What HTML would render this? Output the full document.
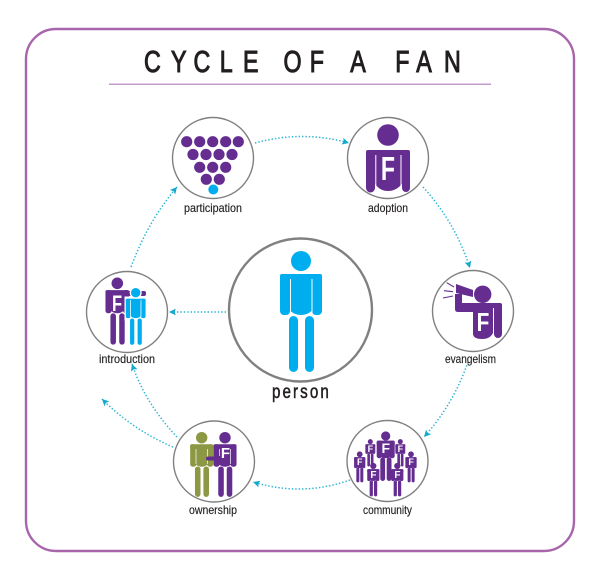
<!DOCTYPE html>
<html lang="en">
<head>
<meta charset="utf-8">
<title>Cycle of a Fan</title>
<style>
html,body{margin:0;padding:0;background:#fff}
svg{display:block}
text{font-family:"Liberation Sans",sans-serif}
.lbl{font-size:12px;fill:#231f20;stroke:#231f20;stroke-width:.15}
.arc{fill:none;stroke:#2ab5d5;stroke-width:1.5;stroke-dasharray:1.4 2;marker-end:url(#ah)}
.ring{fill:#fff;stroke:#808080;stroke-width:1.4}
.f{font-weight:bold;fill:#fff;text-anchor:middle}
</style>
</head>
<body>
<svg width="600" height="579" viewBox="0 0 600 579" xmlns="http://www.w3.org/2000/svg">
<defs>
  <marker id="ah" markerUnits="userSpaceOnUse" markerWidth="8" markerHeight="8" refX="6" refY="3.500" orient="auto" viewBox="0 0 7 7">
    <path d="M0 .5L6 3.500L0 6.500L1.200 3.500Z" fill="#12a9cc"/>
  </marker>
  <g id="p">
    <circle cx="0" cy="0" r="10"/>
    <rect x="-21" y="13" width="42" height="9" rx="2"/>
    <rect x="-21" y="13" width="10" height="41" rx="4"/>
    <rect x="11" y="13" width="10" height="41" rx="4"/>
    <path d="M-10.500 14H10.500V50Q6 54 0 54T-10.500 50Z"/>
    <rect x="-12" y="55" width="9" height="56" rx="4.500"/>
    <rect x="4" y="55" width="9" height="56" rx="4.500"/>
  </g>
</defs>

<rect x="26" y="29" width="548" height="522" rx="30" fill="#fff" stroke="#a766ac" stroke-width="2.400"/>

<g transform="scale(.75,1)">
  <text x="192 228 258 293 324 350 378 413 440 467 500 527 555 592" y="72" font-size="31" fill="#231f20" stroke="#231f20" stroke-width="1.100">CYCLE OF A FAN</text>
</g>
<rect x="109" y="83.500" width="382" height="1.500" fill="#c39bcb"/>

<!-- connectors -->
<path class="arc" d="M255 143Q302 130 349 143"/>
<path class="arc" d="M423 187Q455 222 470 268"/>
<path class="arc" d="M468 362Q453 405 424 437"/>
<path class="arc" d="M350 480Q302 497 253 482"/>
<path class="arc" d="M177 437Q145 403 132 364"/>
<path class="arc" d="M173 447Q133 430 102 399"/>
<path class="arc" d="M131 267Q148 221 177 187"/>
<path class="arc" d="M226 312H169"/>

<!-- person -->
<circle cx="300.500" cy="310" r="71.500" fill="#fff" stroke="#808080" stroke-width="2.400"/>
<g fill="#00aeef">
  <use href="#p" x="301" y="261"/>
</g>
<path d="M290.500 279V313M312 279V313" stroke="#fff" stroke-width="1"/>
<g transform="scale(.8,1)">
  <text x="340" y="398" font-size="19" fill="#231f20" stroke="#231f20" stroke-width=".5" textLength="71" lengthAdjust="spacing">person</text>
</g>

<!-- participation -->
<circle class="ring" cx="213" cy="158" r="40.500"/>
<g fill="#652d90">
  <circle cx="186.700" cy="141.700" r="5.600"/><circle cx="199.700" cy="141.700" r="5.600"/><circle cx="212.700" cy="141.700" r="5.600"/><circle cx="225.700" cy="141.700" r="5.600"/><circle cx="238.300" cy="141.700" r="5.600"/>
  <circle cx="193" cy="154.500" r="5.600"/><circle cx="206" cy="154.500" r="5.600"/><circle cx="219" cy="154.500" r="5.600"/><circle cx="232" cy="154.500" r="5.600"/>
  <circle cx="199.700" cy="167.300" r="5.600"/><circle cx="212.700" cy="167.300" r="5.600"/><circle cx="225.700" cy="167.300" r="5.600"/>
  <circle cx="206.300" cy="179.300" r="5.600"/><circle cx="219.300" cy="179.300" r="5.600"/>
</g>
<circle cx="213.300" cy="189.500" r="5" fill="#00aeef"/>
<text class="lbl" x="184" y="212" textLength="58" lengthAdjust="spacingAndGlyphs">participation</text>

<!-- adoption -->
<circle class="ring" cx="388" cy="158" r="40.500"/>
<g fill="#652d90">
  <circle cx="388" cy="135" r="10.800"/>
  <path d="M368 150H408Q410 150 410 152V188A4 4 0 0 1 402 188V184Q396 191 388 191T375 184V188A4.500 4.500 0 0 1 366 188V152Q366 150 368 150Z"/>
</g>
<path d="M375.800 155V192M401 155V192" stroke="#fff" stroke-width="1"/>
<text class="f" x="388" y="180" font-size="33" transform="translate(116.400 0) scale(.7,1)">F</text>
<text class="lbl" x="368" y="212" textLength="40" lengthAdjust="spacingAndGlyphs">adoption</text>

<!-- evangelism -->
<circle class="ring" cx="473" cy="311" r="40.500"/>
<g fill="#652d90">
  <circle cx="482.700" cy="294.300" r="8.700"/>
  <path d="M456 284L473 290V297L456 293Z"/>
  <path d="M455 294H462V303H500Q502 303 502 305V334A4 4 0 0 1 494 334V330Q492 339 482 339T473 332V312H458Q455 312 455 309Z"/>
</g>
<path d="M493.500 308V338" stroke="#fff" stroke-width="1"/>
<path d="M446.700 282.700L454 287M444 290.700L453 291.700M443 298L453 296" stroke="#652d90" stroke-width="1.100" fill="none"/>
<text class="f" x="483" y="331" font-size="26" transform="translate(96.600 0) scale(.8,1)">F</text>
<text class="lbl" x="445" y="363" textLength="51" lengthAdjust="spacingAndGlyphs">evangelism</text>

<!-- community -->
<circle class="ring" cx="387.500" cy="461" r="40.500"/>
<g fill="#652d90" stroke="#652d90" stroke-width="3">
  <use href="#p" transform="translate(370.300 441.700) scale(.22)"/>
  <use href="#p" transform="translate(400.300 441.700) scale(.22)"/>
  <use href="#p" transform="translate(359.700 454.300) scale(.25)"/>
  <use href="#p" transform="translate(411 454.300) scale(.25)"/>
  <use href="#p" transform="translate(385.700 436) scale(.4)"/>
  <use href="#p" transform="translate(373.300 466) scale(.27)"/>
  <use href="#p" transform="translate(397.300 466) scale(.27)"/>
</g>
<text class="f" x="385.800" y="453" font-size="14">F</text>
<text class="f" x="370.400" y="452" font-size="9">F</text>
<text class="f" x="400.400" y="452" font-size="9">F</text>
<text class="f" x="359.800" y="465" font-size="9">F</text>
<text class="f" x="411.100" y="465" font-size="9">F</text>
<text class="f" x="373.400" y="478" font-size="10">F</text>
<text class="f" x="397.400" y="478" font-size="10">F</text>
<text class="lbl" x="363" y="514" textLength="49" lengthAdjust="spacingAndGlyphs">community</text>

<!-- ownership -->
<circle class="ring" cx="214" cy="461.500" r="40.500"/>
<use href="#p" fill="#8d9845" stroke="#8d9845" stroke-width="1.500" transform="translate(201.700 437.700) scale(.53)"/>
<use href="#p" fill="#652d90" stroke="#652d90" stroke-width="1.500" transform="translate(225 437.700) scale(.53)"/>
<path d="M196 449V464M207.500 449V464M219.500 449V456M230.500 449V464" stroke="#fff" stroke-width=".7"/>
<rect x="206" y="456.500" width="16" height="4" rx="2" fill="#652d90"/>
<text class="f" x="225.500" y="458" font-size="15">F</text>
<text class="lbl" x="189" y="514" textLength="48" lengthAdjust="spacingAndGlyphs">ownership</text>

<!-- introduction -->
<circle class="ring" cx="127" cy="312" r="40.500"/>
<use href="#p" fill="#652d90" stroke="#652d90" stroke-width="1" transform="translate(117.300 283.300) scale(.55)"/>
<rect x="120" y="291" width="26" height="5" rx="2" fill="#652d90"/>
<text class="f" x="117" y="311" font-size="22" transform="translate(29.250 0) scale(.75,1)">F</text>
<circle cx="135.700" cy="292.700" r="6" fill="#fff"/>
<rect x="124.500" y="296.500" width="22.500" height="24" fill="#fff"/>
<use href="#p" fill="#00aeef" transform="translate(135.700 292.700) scale(.47)"/>
<path d="M130.500 300V317M141 300V317" stroke="#fff" stroke-width=".7"/>
<text class="lbl" x="99" y="363" textLength="56" lengthAdjust="spacingAndGlyphs">introduction</text>
</svg>
</body>
</html>
